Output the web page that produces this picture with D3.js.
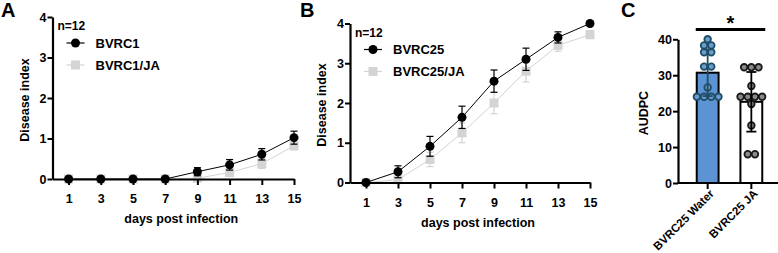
<!DOCTYPE html>
<html>
<head>
<meta charset="utf-8">
<script src="https://cdn.jsdelivr.net/npm/d3@7"></script>
<style>
  body { margin: 0; background: #fff; }
  svg text { font-family: "Liberation Sans", Arial, sans-serif; font-weight: bold; }
</style>
</head>
<body>
<div id="chart"></div>
<script>
// days on the x axis (panels A and B)
const days = [1, 3, 5, 7, 9, 11, 13, 15];
const dayTicks = [1, 3, 5, 7, 9, 11, 13, 15];
const indexTicks = [0, 1, 2, 3, 4];

// panel A
const bvrc1Mean = [0, 0, 0, 0, 0.18, 0.35, 0.61, 1.02];
const bvrc1Err = [0, 0, 0, 0, 0.1, 0.13, 0.14, 0.16];
const bvrc1jaMean = [0, 0, 0, 0, 0.02, 0.16, 0.38, 0.82];
const bvrc1jaErr = [0, 0, 0, 0, 0.05, 0.1, 0.12, 0.1];

// panel B
const bvrc25Mean = [0, 0.27, 0.91, 1.64, 2.55, 3.1, 3.65, 4.0];
const bvrc25Err = [0, 0.15, 0.25, 0.28, 0.28, 0.28, 0.14, 0.05];
const bvrc25jaMean = [0, 0.07, 0.58, 1.25, 2.0, 2.8, 3.45, 3.72];
const bvrc25jaErr = [0, 0.05, 0.18, 0.25, 0.27, 0.27, 0.15, 0.1];

// panel C
const groupsC = ["BVRC25 Water", "BVRC25 JA"];
const barMeans = [30.7, 22.6];
const barSd = [6.5, 8.3];
const waterPoints = [40, 38.3, 38.3, 36.4, 36.4, 32.4, 32.4, 26.6, 24, 24, 24, 24];
const jaPoints = [32.2, 32.2, 32.2, 27, 24, 24, 24, 24, 22, 16, 8, 8];
const audpcTicks = [0, 10, 20, 30, 40];

const W = 778, H = 253;
const svg = d3.select("#chart").append("svg")
  .attr("width", W).attr("height", H);

function linePanel(opt) {
  const x = d3.scaleLinear().domain([0, 15]).range([opt.x0, opt.x1]);
  const y = d3.scaleLinear().domain([0, 4]).range([opt.y0, opt.y1]);
  const g = svg.append("g");

  // panel letter
  g.append("text").attr("x", opt.letterX).attr("y", 17)
    .style("font-size", "20px").text(opt.letter);

  // series helper
  const drawSeries = (means, errs, color, shape) => {
    const pts = days.map((d, i) => ({ d, m: means[i], e: errs[i] }));
    g.append("path").datum(pts)
      .attr("fill", "none").attr("stroke", color).attr("stroke-width", 1)
      .attr("d", d3.line().x(p => x(p.d)).y(p => y(p.m)));
    const eb = g.append("g").attr("stroke", color).attr("stroke-width", 1.2);
    pts.filter(p => p.e > 0).forEach(p => {
      eb.append("line").attr("x1", x(p.d)).attr("x2", x(p.d))
        .attr("y1", y(p.m - p.e)).attr("y2", y(p.m + p.e));
      [p.m - p.e, p.m + p.e].forEach(v => {
        eb.append("line").attr("x1", x(p.d) - 3.5).attr("x2", x(p.d) + 3.5)
          .attr("y1", y(v)).attr("y2", y(v));
      });
    });
    if (shape === "circle") {
      g.selectAll(null).data(pts).join("circle")
        .attr("cx", p => x(p.d)).attr("cy", p => y(p.m)).attr("r", 4.5)
        .attr("fill", color);
    } else {
      g.selectAll(null).data(pts).join("rect")
        .attr("x", p => x(p.d) - 4.5).attr("y", p => y(p.m) - 4.5)
        .attr("width", 9).attr("height", 9).attr("fill", color);
    }
  };

  drawSeries(opt.s2Mean, opt.s2Err, "#d4d4d4", "square");
  drawSeries(opt.s1Mean, opt.s1Err, "#000", "circle");

  // axes
  const yAxis = g.append("g").attr("transform", `translate(${opt.x0},0)`)
    .call(d3.axisLeft(y).tickValues(indexTicks).tickSize(5).tickSizeOuter(0).tickFormat(d3.format("d")));
  const xAxis = g.append("g").attr("transform", `translate(0,${opt.y0})`)
    .call(d3.axisBottom(x).tickValues(dayTicks).tickSize(6).tickSizeOuter(0));
  [yAxis, xAxis].forEach(a => {
    a.select(".domain").attr("stroke-width", 2.2);
    a.selectAll(".tick line").attr("stroke-width", 2);
    a.selectAll("text").style("font-size", "12.5px").attr("fill", "#000");
  });
  xAxis.selectAll("text").attr("dy", "1.2em");
  yAxis.selectAll("text").attr("x", -6);

  g.append("text")
    .attr("transform", `translate(${opt.x0 - 24},${(opt.y0 + opt.y1) / 2 + 2}) rotate(-90)`)
    .attr("text-anchor", "middle").style("font-size", "12.5px").text("Disease index");
  g.append("text").attr("x", (opt.x0 + opt.x1) / 2 + 8).attr("y", opt.y0 + 44)
    .attr("text-anchor", "middle").style("font-size", "12.5px").text("days post infection");

  // legend
  g.append("text").attr("x", opt.x0 + 5).attr("y", opt.y1 + 13)
    .style("font-size", "12px").text("n=12");
  const lg = [
    { name: opt.s1Name, color: "#000", shape: "circle" },
    { name: opt.s2Name, color: "#d4d4d4", shape: "square" }
  ];
  lg.forEach((l, i) => {
    const ly = opt.y1 + 26 + i * 22;
    const lx = opt.x0 + 23;
    g.append("line").attr("x1", lx - 9).attr("x2", lx + 9)
      .attr("y1", ly).attr("y2", ly).attr("stroke", l.color).attr("stroke-width", 1.2);
    if (l.shape === "circle") {
      g.append("circle").attr("cx", lx).attr("cy", ly).attr("r", 4.5).attr("fill", l.color);
    } else {
      g.append("rect").attr("x", lx - 4.5).attr("y", ly - 4.5)
        .attr("width", 9).attr("height", 9).attr("fill", l.color);
    }
    g.append("text").attr("x", lx + 20).attr("y", ly + 4.5)
      .style("font-size", "13px").text(l.name);
  });
}

linePanel({
  letter: "A", letterX: 1,
  x0: 52.5, x1: 294, y0: 179, y1: 17,
  s1Mean: bvrc1Mean, s1Err: bvrc1Err, s2Mean: bvrc1jaMean, s2Err: bvrc1jaErr,
  s1Name: "BVRC1", s2Name: "BVRC1/JA"
});

linePanel({
  letter: "B", letterX: 300,
  x0: 350, x1: 590, y0: 182.5, y1: 23.5,
  s1Mean: bvrc25Mean, s1Err: bvrc25Err, s2Mean: bvrc25jaMean, s2Err: bvrc25jaErr,
  s1Name: "BVRC25", s2Name: "BVRC25/JA"
});

// ---------- panel C ----------
(function () {
  const g = svg.append("g");
  const x0 = 678, x1 = 779, y0 = 183, y1 = 39.3;
  const x = d3.scaleBand().domain(groupsC).range([x0 + 10, x1 - 8]).paddingInner(0.5).paddingOuter(0.2);
  const y = d3.scaleLinear().domain([0, 40]).range([y0, y1]);

  g.append("text").attr("x", 621).attr("y", 17).style("font-size", "20px").text("C");

  const fills = ["#5b93d3", "#ffffff"];
  const dotFill = ["#6a9ccd", "#8a8a8a"];
  const dotStroke = ["#1f4d66", "#1a1a1a"];
  const errStroke = ["#1f4d66", "#000"];
  const pts = [waterPoints, jaPoints];

  g.selectAll(null).data(groupsC).join("rect")
    .attr("x", d => x(d)).attr("width", x.bandwidth())
    .attr("y", (d, i) => y(barMeans[i])).attr("height", (d, i) => y0 - y(barMeans[i]))
    .attr("fill", (d, i) => fills[i]).attr("stroke", "#000").attr("stroke-width", 2);

  groupsC.forEach((gname, i) => {
    const cx = x(gname) + x.bandwidth() / 2;
    // dots, spread horizontally in rows of equal value
    const rows = d3.groups(pts[i], v => v);
    rows.forEach(([v, arr]) => {
      arr.forEach((_, k) => {
        const off = (k - (arr.length - 1) / 2) * 7.2;
        g.append("circle").attr("cx", cx + off).attr("cy", y(v)).attr("r", 3.3)
          .attr("fill", dotFill[i]).attr("stroke", dotStroke[i]).attr("stroke-width", 1.8);
      });
    });
    const top = barMeans[i] + barSd[i], bot = barMeans[i] - barSd[i];
    const eg = g.append("g").attr("stroke", errStroke[i]).attr("stroke-width", 1.8);
    eg.append("line").attr("x1", cx).attr("x2", cx).attr("y1", y(bot)).attr("y2", y(top));
    [bot, top].forEach(v => eg.append("line").attr("x1", cx - 5).attr("x2", cx + 5)
      .attr("y1", y(v)).attr("y2", y(v)));
  });

  const yAxis = g.append("g").attr("transform", `translate(${x0},0)`)
    .call(d3.axisLeft(y).tickValues(audpcTicks).tickSize(5).tickSizeOuter(0));
  const xAxis = g.append("g").attr("transform", `translate(0,${y0})`)
    .call(d3.axisBottom(x).tickSize(6).tickSizeOuter(0));
  xAxis.select(".domain").attr("d", `M${x0},0H${x1}`);
  [yAxis, xAxis].forEach(a => {
    a.select(".domain").attr("stroke-width", 2.2);
    a.selectAll(".tick line").attr("stroke-width", 2);
    a.selectAll("text").attr("fill", "#000");
  });
  yAxis.selectAll("text").style("font-size", "12.5px").attr("x", -6);
  xAxis.selectAll("text").style("font-size", "11.5px")
    .attr("text-anchor", "end").attr("dy", 0).attr("y", 13).attr("x", -3)
    .attr("transform", "rotate(-45)");

  g.append("text")
    .attr("transform", `translate(${x0 - 30},${(y0 + y1) / 2 + 2}) rotate(-90)`)
    .attr("text-anchor", "middle").style("font-size", "12.5px").text("AUDPC");

  // significance bar
  const sx1 = x(groupsC[0]) - 1, sx2 = x(groupsC[1]) + x.bandwidth() + 3;
  g.append("line").attr("x1", sx1).attr("x2", sx2).attr("y1", 29.5).attr("y2", 29.5)
    .attr("stroke", "#000").attr("stroke-width", 3);
  g.append("text").attr("x", (sx1 + sx2) / 2).attr("y", 30).attr("text-anchor", "middle")
    .style("font-size", "20px").text("*");
})();
</script>
</body>
</html>
